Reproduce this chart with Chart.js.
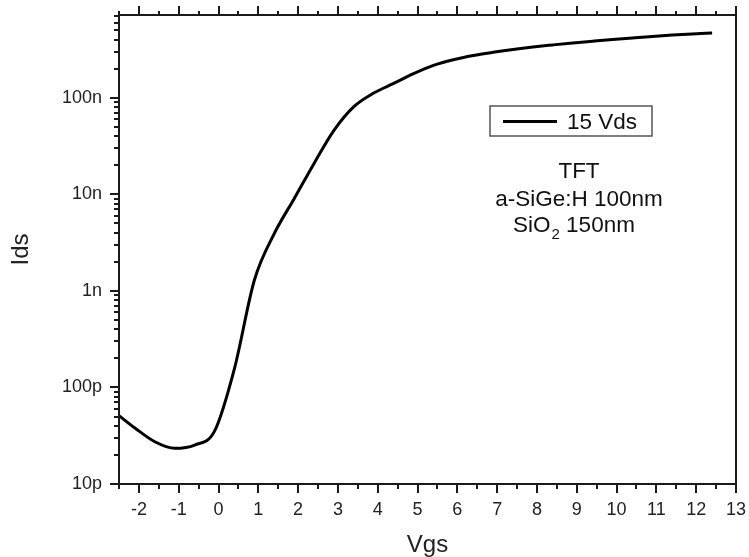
<!DOCTYPE html>
<html>
<head>
<meta charset="utf-8">
<script src="https://cdn.jsdelivr.net/npm/chart.js@4.4.1/dist/chart.umd.min.js"></script>
<style>
  html, body { margin: 0; padding: 0; background: #fff; }
  #wrap { width: 749px; height: 557px; }
</style>
</head>
<body>
<div id="wrap"><canvas id="c" width="749" height="557"></canvas></div>
<script>
// Transfer curve of the a-SiGe:H TFT at Vds = 15 V
const seriesLabel = '15 Vds';
const vgs = [-2.5, -2.1, -1.6, -1.1, -0.6, -0.1, 0.4, 0.9, 1.4, 1.9, 2.4, 2.9, 3.4, 3.9, 4.4,
             4.9, 5.4, 5.9, 6.4, 6.9, 7.4, 7.9, 8.4, 8.9, 9.4, 9.9, 10.4, 10.9, 11.4, 11.9, 12.4];
const ids = [5.1e-11, 3.8e-11, 2.74e-11, 2.34e-11, 2.53e-11, 3.53e-11, 1.57e-10, 1.29e-9, 3.92e-9,
             9.0e-9, 2.09e-8, 4.6e-8, 8.1e-8, 1.12e-7, 1.41e-7, 1.78e-7, 2.17e-7, 2.48e-7, 2.74e-7,
             2.96e-7, 3.17e-7, 3.36e-7, 3.53e-7, 3.70e-7, 3.86e-7, 4.02e-7, 4.17e-7, 4.32e-7,
             4.46e-7, 4.58e-7, 4.69e-7];

// Axis ticks
const xTicks = [-2, -1, 0, 1, 2, 3, 4, 5, 6, 7, 8, 9, 10, 11, 12, 13];
const yTicks = [1e-11, 1e-10, 1e-9, 1e-8, 1e-7];
const yTickLabels = ['10p', '100p', '1n', '10n', '100n'];

// Device description
const noteLines = ['TFT', 'a-SiGe:H 100nm'];

const FONT = '"Liberation Sans", Arial, Helvetica, sans-serif';
const INK = '#1a1a1a';

// Frame and all tick marks (outward, majors longer than minors)
const frameTicks = {
  id: 'frameTicks',
  afterDraw(chart) {
    const { ctx, chartArea: a, scales: { x, y } } = chart;
    ctx.save();
    ctx.strokeStyle = INK;
    ctx.lineWidth = 2;
    ctx.lineCap = 'butt';
    ctx.strokeRect(a.left, a.top, a.right - a.left, a.bottom - a.top);
    ctx.beginPath();
    for (let v = x.min; v <= x.max + 1e-9; v += 0.5) {
      const px = Math.round(x.getPixelForValue(v));
      const major = Math.abs(v - Math.round(v)) < 1e-9;
      ctx.moveTo(px, a.bottom);
      ctx.lineTo(px, a.bottom + (major ? 9 : 5));
      ctx.moveTo(px, a.top);
      ctx.lineTo(px, a.top - (major ? 9 : 4));
    }
    for (let d = -11; d <= -7; d++) {
      for (let m = 1; m <= 9; m++) {
        const v = m * Math.pow(10, d);
        if (v < y.min * 0.999 || v > y.max * 1.001) continue;
        const py = Math.round(y.getPixelForValue(v));
        ctx.moveTo(a.left, py);
        ctx.lineTo(a.left - (m === 1 ? 9 : 5), py);
      }
    }
    ctx.stroke();
    ctx.restore();
  }
};

// Legend box and device note inside the plot
const notes = {
  id: 'notes',
  afterDraw(chart) {
    const { ctx } = chart;
    const ds = chart.data.datasets[0];
    ctx.save();
    // legend
    ctx.strokeStyle = '#555';
    ctx.lineWidth = 1.5;
    ctx.strokeRect(490, 106, 162, 30);
    ctx.strokeStyle = ds.borderColor;
    ctx.lineWidth = ds.borderWidth;
    ctx.beginPath();
    ctx.moveTo(503, 121.5);
    ctx.lineTo(557, 121.5);
    ctx.stroke();
    ctx.fillStyle = '#111';
    ctx.font = '22.5px ' + FONT;
    ctx.textBaseline = 'alphabetic';
    ctx.textAlign = 'left';
    ctx.fillText(ds.label, 567, 129);
    // device note
    ctx.textAlign = 'center';
    ctx.fillText(noteLines[0], 579, 178);
    ctx.fillText(noteLines[1], 579, 206);
    ctx.textAlign = 'left';
    let xx = 513;
    ctx.fillText('SiO', xx, 232);
    xx += ctx.measureText('SiO').width;
    ctx.font = '15px ' + FONT;
    ctx.fillText('2', xx + 1, 239);
    xx += ctx.measureText('2').width + 1;
    ctx.font = '22.5px ' + FONT;
    ctx.fillText(' 150nm', xx, 232);
    ctx.restore();
  }
};

new Chart(document.getElementById('c'), {
  type: 'line',
  data: {
    datasets: [{
      label: seriesLabel,
      data: vgs.map((v, i) => ({ x: v, y: ids[i] })),
      borderColor: '#000',
      borderWidth: 3,
      pointRadius: 0,
      fill: false,
      cubicInterpolationMode: 'monotone'
    }]
  },
  options: {
    responsive: false,
    animation: false,
    devicePixelRatio: 1,
    layout: { padding: { left: 0, top: 15, right: 13, bottom: 0 } },
    plugins: {
      legend: { display: false },
      tooltip: { enabled: false }
    },
    scales: {
      x: {
        type: 'linear',
        min: -2.5,
        max: 13,
        grid: { display: false, drawTicks: false },
        border: { display: false },
        afterBuildTicks: s => { s.ticks = xTicks.map(v => ({ value: v })); },
        afterFit: s => { s.height = 73; s.paddingLeft = 0; s.paddingRight = 0; },
        ticks: {
          autoSkip: false,
          maxRotation: 0,
          padding: 15,
          color: '#222',
          font: { family: FONT, size: 18 },
          callback: v => String(v)
        },
        title: {
          display: true,
          text: 'Vgs',
          color: '#222',
          font: { family: FONT, size: 24 },
          padding: { top: 0, bottom: -3 }
        }
      },
      y: {
        type: 'logarithmic',
        min: 1e-11,
        max: 7.2e-7,
        grid: { display: false, drawTicks: false },
        border: { display: false },
        afterBuildTicks: s => { s.ticks = yTicks.map(v => ({ value: v })); },
        afterFit: s => { s.width = 119; s.paddingTop = 0; s.paddingBottom = 0; },
        ticks: {
          autoSkip: false,
          padding: 17,
          color: '#222',
          font: { family: FONT, size: 18 },
          callback: v => {
            const i = yTicks.findIndex(t => Math.abs(t - v) / t < 1e-6);
            return i >= 0 ? yTickLabels[i] : '';
          }
        },
        title: {
          display: true,
          text: 'Ids',
          color: '#222',
          font: { family: FONT, size: 24 },
          padding: { top: 7, bottom: 0 }
        }
      }
    }
  },
  plugins: [frameTicks, notes]
});
</script>
</body>
</html>
